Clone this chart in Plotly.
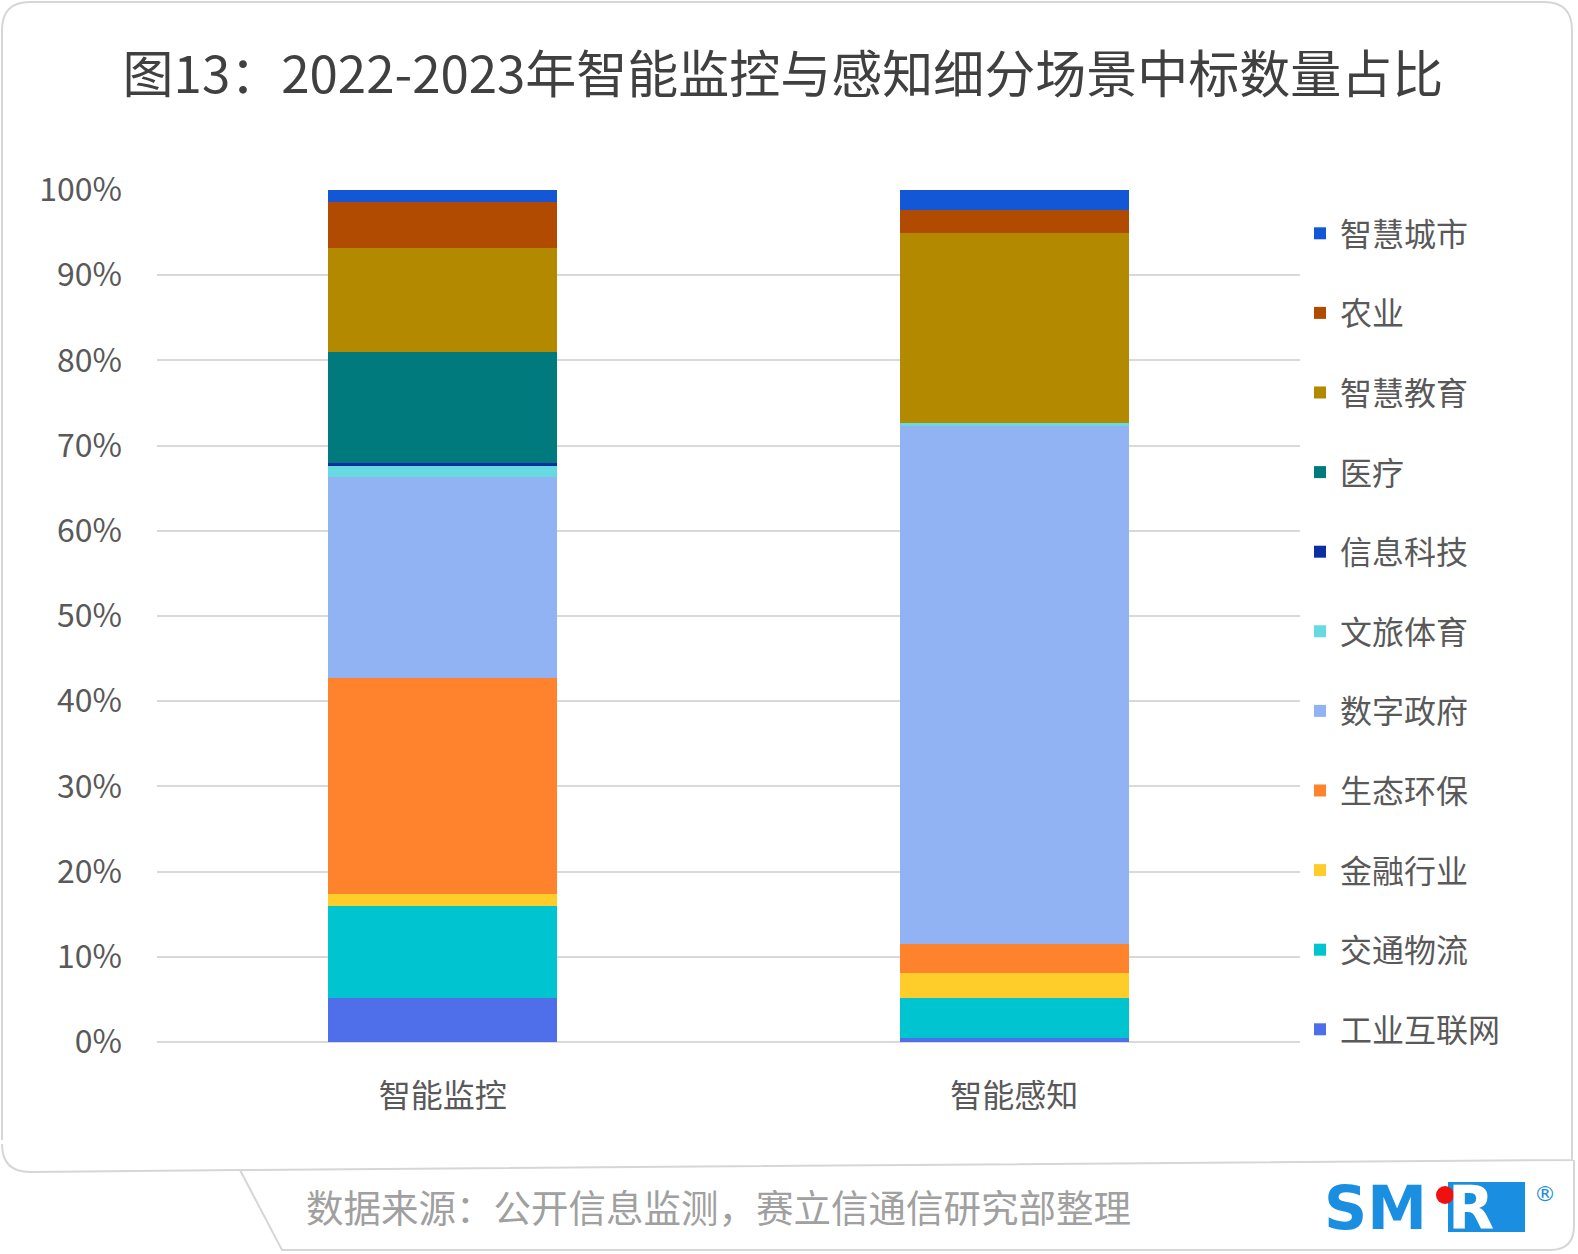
import plotly.graph_objects as go

W, H = 1578, 1254
L, R, T, B = 157, 278, 190, 212  # margins in px

title_text = "图13：2022-2023年智能监控与感知细分场景中标数量占比"
categories = ["智能监控", "智能感知"]

# stack order from bottom to top
series_names = ["工业互联网", "交通物流", "金融行业", "生态环保", "数字政府",
                "文旅体育", "信息科技", "医疗", "智慧教育", "农业", "智慧城市"]
series_colors = ["#4F6FEA", "#00C4D0", "#FFCD2A", "#FF822D", "#91B2F3",
                 "#66D9E1", "#0C2FA0", "#007A7C", "#B38900", "#B24B02", "#1457D6"]
values_monitor = [5.2, 10.8, 1.4, 25.3, 23.6, 1.3, 0.4, 13.0, 12.2, 5.4, 1.4]
values_sense = [0.5, 4.7, 2.9, 3.4, 60.8, 0.4, 0.0, 0.0, 22.2, 2.8, 2.3]

y_ticks = [0, 10, 20, 30, 40, 50, 60, 70, 80, 90, 100]
y_tick_labels = ["0%", "10%", "20%", "30%", "40%", "50%", "60%", "70%", "80%", "90%", "100%"]
footer_text = "数据来源：公开信息监测，赛立信通信研究部整理"

FONT = "Noto Sans CJK SC, Noto Sans, sans-serif"

fig = go.Figure()
n = len(series_names)
for i, name in enumerate(series_names):
    fig.add_trace(go.Bar(
        name=name,
        x=categories,
        y=[values_monitor[i], values_sense[i]],
        marker=dict(color=series_colors[i], line=dict(width=0)),
        width=0.4,
        legendgroup=name,
        legendrank=n - i,
    ))

PW = W - L - R
PH = H - T - B


def px(x):
    return (x - L) / PW


def py(y):
    return (H - B - y) / PH


shapes = []
# card outline
card = (f"M {px(2)},{py(1140)} L {px(2)},{py(30)} Q {px(2)},{py(2)} {px(30)},{py(2)} "
        f"L {px(1544)},{py(2)} Q {px(1572)},{py(2)} {px(1572)},{py(30)} L {px(1572)},{py(1160)} "
        f"L {px(240)},{py(1170)} L {px(30)},{py(1172)} Q {px(2)},{py(1172)} {px(2)},{py(1144)}")
shapes.append(dict(type="path", xref="paper", yref="paper", path=card,
                   line=dict(color="#D6D6D6", width=2), layer="below"))
footer = (f"M {px(240)},{py(1170)} L {px(282)},{py(1250)} L {px(1550)},{py(1250)} "
          f"Q {px(1574)},{py(1250)} {px(1574)},{py(1226)} L {px(1574)},{py(1160)}")
shapes.append(dict(type="path", xref="paper", yref="paper", path=footer,
                   line=dict(color="#D6D6D6", width=2), layer="below"))
# SMR logo pieces
shapes.append(dict(type="rect", xref="paper", yref="paper",
                   x0=px(1448), x1=px(1525), y0=py(1182), y1=py(1232),
                   fillcolor="#1A8EE0", line=dict(width=0)))
shapes.append(dict(type="circle", xref="paper", yref="paper",
                   x0=px(1436), x1=px(1454), y0=py(1186), y1=py(1204),
                   fillcolor="#F01010", line=dict(width=0)))

annotations = [
    dict(text=footer_text, xref="paper", yref="paper", x=px(304), y=py(1205),
         xanchor="left", yanchor="middle", showarrow=False,
         font=dict(family=FONT, size=37.5, color="#A0A0A0")),
    dict(text="<b>SM</b>", xref="paper", yref="paper", x=px(1322), y=py(1208),
         xanchor="left", yanchor="middle", showarrow=False,
         font=dict(family="DejaVu Sans", size=60, color="#1A8EE0")),
    dict(text="<b>R</b>", xref="paper", yref="paper", x=px(1446), y=py(1208),
         xanchor="left", yanchor="middle", showarrow=False,
         font=dict(family="DejaVu Sans", size=60, color="#FFFFFF")),
    dict(text="®", xref="paper", yref="paper", x=px(1545), y=py(1193),
         xanchor="center", yanchor="middle", showarrow=False,
         font=dict(family="DejaVu Sans", size=22, color="#1A8EE0")),
]

fig.update_layout(
    width=W, height=H,
    margin=dict(l=L, r=R, t=T, b=B, pad=0, autoexpand=False),
    paper_bgcolor="white", plot_bgcolor="white",
    barmode="stack", bargap=0.6,
    font=dict(family=FONT, color="#595959", size=32),
    title=dict(text=title_text, x=783 / W, xref="container", xanchor="center",
               y=1 - 75 / H, yref="container", yanchor="middle",
               font=dict(family=FONT, size=51, color="#404040", weight=400)),
    legend=dict(x=1300 / W, xref="container", xanchor="left",
                y=1 - 206 / H, yref="container", yanchor="top",
                traceorder="grouped", tracegroupgap=35, maxheight=1000,
                font=dict(family=FONT, size=32, color="#595959"),
                bgcolor="rgba(0,0,0,0)", itemclick=False),
    xaxis=dict(showgrid=False, zeroline=False, showline=False, ticks="",
               ticklabelstandoff=32, range=[-0.5, 1.5],
               tickfont=dict(family=FONT, size=32, color="#595959")),
    yaxis=dict(range=[0, 100], tickvals=y_ticks, ticktext=y_tick_labels,
               showgrid=True, gridcolor="#D9D9D9", gridwidth=2,
               zeroline=True, zerolinecolor="#D9D9D9", zerolinewidth=2,
               showline=False, ticks="", ticklabelstandoff=34,
               tickfont=dict(family=FONT, size=32, color="#595959")),
    shapes=shapes, annotations=annotations,
    showlegend=True,
)

fig.write_html("out.html", config={"displayModeBar": False},
               post_script="document.body.style.margin='0';document.body.style.overflow='hidden';")
